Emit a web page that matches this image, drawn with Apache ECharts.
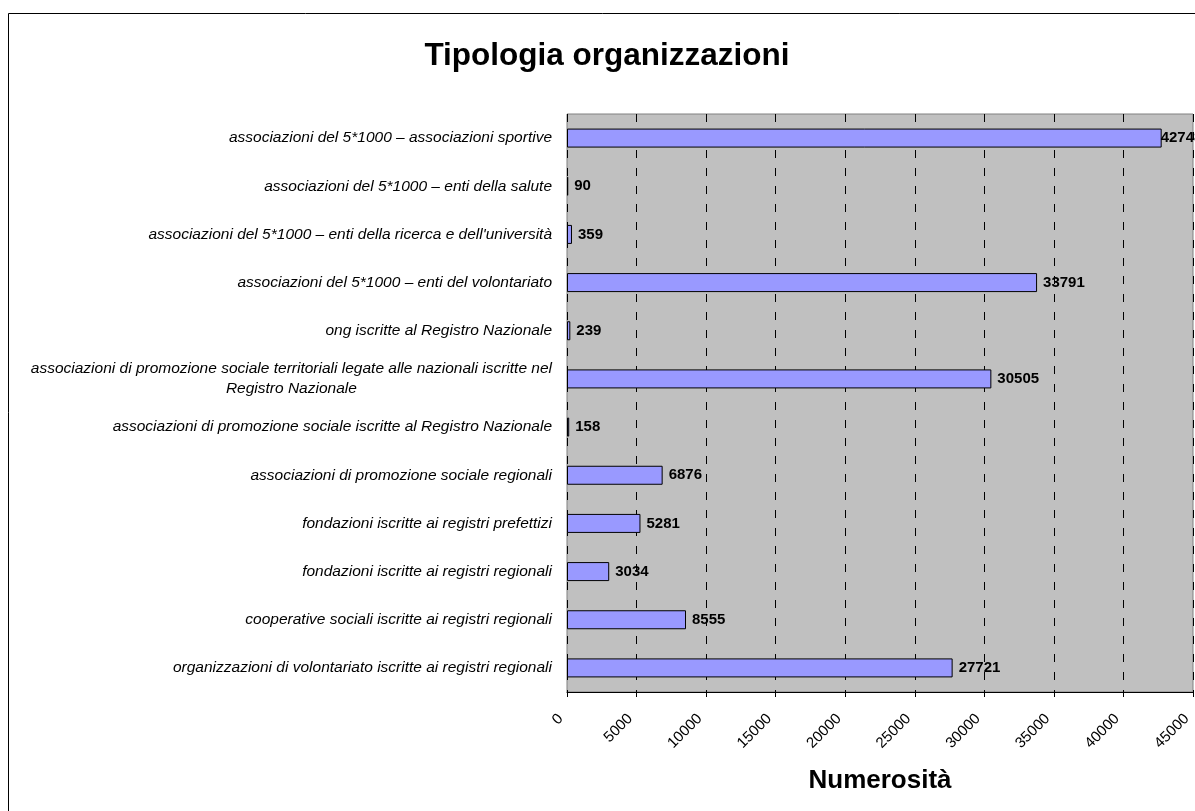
<!DOCTYPE html>
<html>
<head>
<meta charset="utf-8">
<script src="https://cdn.jsdelivr.net/npm/echarts@6/dist/echarts.min.js"></script>
<style>
  html, body { margin: 0; padding: 0; background: #fff; }
  #chart { width: 1195px; height: 811px; }
</style>
</head>
<body>
<div id="chart"></div>
<script>
// categorie (dall'alto verso il basso)
var categorie = [
  'associazioni del 5*1000 – associazioni sportive',
  'associazioni del 5*1000 – enti della salute',
  "associazioni del 5*1000 – enti della ricerca e dell'università",
  'associazioni del 5*1000 – enti del volontariato',
  'ong iscritte al Registro Nazionale',
  'associazioni di promozione sociale territoriali legate alle nazionali iscritte nel\nRegistro Nazionale',
  'associazioni di promozione sociale iscritte al Registro Nazionale',
  'associazioni di promozione sociale regionali',
  'fondazioni iscritte ai registri prefettizi',
  'fondazioni iscritte ai registri regionali',
  'cooperative sociali iscritte ai registri regionali',
  'organizzazioni di volontariato iscritte ai registri regionali'
]
var numerosita = [42748, 90, 359, 33791, 239, 30505, 158, 6876, 5281, 3034, 8555, 27721]
var asseMin = 0
var asseMax = 45000
var asseStep = 5000

var font = 'Arial, "Liberation Sans", sans-serif'
var myChart = echarts.init(document.getElementById('chart'))

// l'etichetta della barra più lunga viene spinta dentro l'area (come in Excel)
var datiBarre = numerosita.map(function (v) {
  return v > asseMax - 3000 ? { value: v, label: { distance: -1 } } : v
})

var option = {
  backgroundColor: '#ffffff',
  animation: false,
  title: {
    text: 'Tipologia organizzazioni',
    left: 602,
    textAlign: 'center',
    top: 35,
    textStyle: {
      color: '#000',
      fontFamily: font,
      fontWeight: 'bold',
      fontSize: 31.5
    }
  },
  graphic: [{
    type: 'rect',
    silent: true,
    shape: { x: 8.5, y: 13.5, width: 1400, height: 1000 },
    style: { fill: 'none', stroke: '#000', lineWidth: 1 }
  }],
  grid: {
    left: 567,
    top: 114,
    right: 2,
    bottom: 119,
    outerBoundsMode: 'none',
    containLabel: false,
    show: true,
    backgroundColor: '#c0c0c0',
    borderColor: '#808080',
    borderWidth: 1
  },
  xAxis: {
    type: 'value',
    min: asseMin,
    max: asseMax,
    interval: asseStep,
    name: 'Numerosità',
    nameLocation: 'middle',
    nameGap: 76,
    nameTextStyle: {
      color: '#000',
      fontFamily: font,
      fontWeight: 'bold',
      fontSize: 26
    },
    axisLine: { show: true, lineStyle: { color: '#000', width: 1 } },
    axisTick: { show: true, length: 5, lineStyle: { color: '#000' } },
    axisLabel: {
      rotate: 45,
      margin: 18,
      padding: [0, 9, 0, 0],
      color: '#000',
      fontFamily: font,
      fontSize: 15,
      hideOverlap: false,
      formatter: function (v) { return String(v) }
    },
    splitLine: {
      show: true,
      lineStyle: { color: '#000', width: 1, type: [8, 10] }
    }
  },
  yAxis: {
    type: 'category',
    inverse: true,
    data: categorie,
    axisLine: { show: false },
    axisTick: { show: false },
    axisLabel: {
      margin: 15,
      color: '#000',
      fontFamily: font,
      fontStyle: 'italic',
      fontSize: 15.5,
      lineHeight: 20,
      formatter: function (v) {
        if (v.indexOf('\n') < 0) return v
        return v.split('\n').map(function (r) { return '{c|' + r + '}' }).join('\n')
      },
      rich: {
        c: {
          align: 'center',
          color: '#000',
          fontFamily: font,
          fontStyle: 'italic',
          fontSize: 15.5,
          lineHeight: 20
        }
      }
    }
  },
  series: [{
    type: 'bar',
    data: datiBarre,
    barWidth: 19,
    itemStyle: {
      color: '#9999ff',
      borderColor: '#000',
      borderWidth: 1
    },
    label: {
      show: true,
      position: 'right',
      distance: 6,
      color: '#000',
      fontFamily: font,
      fontWeight: 'bold',
      fontSize: 15
    }
  }]
}

myChart.setOption(option)
</script>
</body>
</html>
